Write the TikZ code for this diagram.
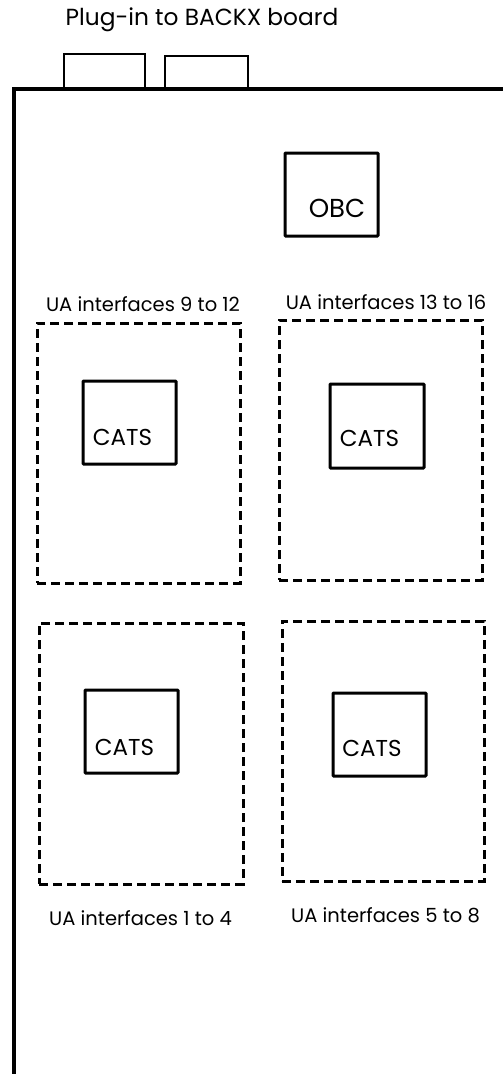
\documentclass[tikz,border=0pt]{standalone}
\usepackage{fontspec}
\setmainfont{Poppins}
\begin{document}
\begin{tikzpicture}[x=1pt,y=-1pt,
  board/.style={line width=3.5pt,line cap=rect},
  plug/.style={draw,line width=2.6pt},
  chip/.style={draw,line width=3pt,rounded corners=0.8pt},
  zone/.style={draw,line width=3pt,dash pattern=on 9pt off 5pt},
  lbl/.style={inner sep=0pt,font=\fontsize{19.5}{22}\selectfont},
  chiptxt/.style={inner sep=0pt,font=\fontsize{23}{26}\selectfont}]
\useasboundingbox (0,0) rectangle (503,1074);
\fill[white] (0,0) rectangle (503,1074);
% title
\node[inner sep=0pt,font=\fontsize{23.3}{26}\selectfont] (title) at (202,20) {Plug-in to BACKX board};
% connectors
\draw[plug] (64,89) -- (64,54) -- (145,54) -- (145,89);
\draw[plug] (165,89) -- (165,56) -- (248,56) -- (248,89);
% board outline
\draw[board] (14,1074) -- (14,89) -- (503,89);
% OBC
\node[chip,minimum width=93pt,minimum height=83pt] (obc) at (331.5,194.5) {};
\node[inner sep=0pt,font=\fontsize{26}{28}\selectfont] (obct) at (337,208) {OBC};
% zones
\node[zone,minimum width=203pt,minimum height=260pt] (z912) at (138.5,453) {};
\node[zone,minimum width=203pt,minimum height=260pt] (z1316) at (380.5,450) {};
\node[zone,minimum width=204pt,minimum height=261pt] (z14) at (141,753.5) {};
\node[zone,minimum width=202pt,minimum height=260pt] (z58) at (383,751) {};
% zone labels
\node[lbl] (l912) at (143,304) {UA interfaces 9 to 12};
\node[lbl] (l1316) at (386,302) {UA interfaces 13 to 16};
\node[lbl] (l14) at (140.5,918) {UA interfaces 1 to 4};
\node[lbl] (l58) at (385.5,915) {UA interfaces 5 to 8};
% CATS chips
\node[chip,minimum width=93pt,minimum height=83pt] (c912) at (129.5,422.5) {};
\node[chiptxt] (c912t) at (122.5,437) {CATS};
\node[chip,minimum width=94pt,minimum height=84pt] (c1316) at (377,426) {};
\node[chiptxt] (c1316t) at (369.5,438) {CATS};
\node[chip,minimum width=93pt,minimum height=83pt] (c14) at (131.5,731.5) {};
\node[chiptxt] (c14t) at (124.5,747) {CATS};
\node[chip,minimum width=93pt,minimum height=83pt] (c58) at (379.5,734.5) {};
\node[chiptxt] (c58t) at (372,748) {CATS};
\end{tikzpicture}
\end{document}
